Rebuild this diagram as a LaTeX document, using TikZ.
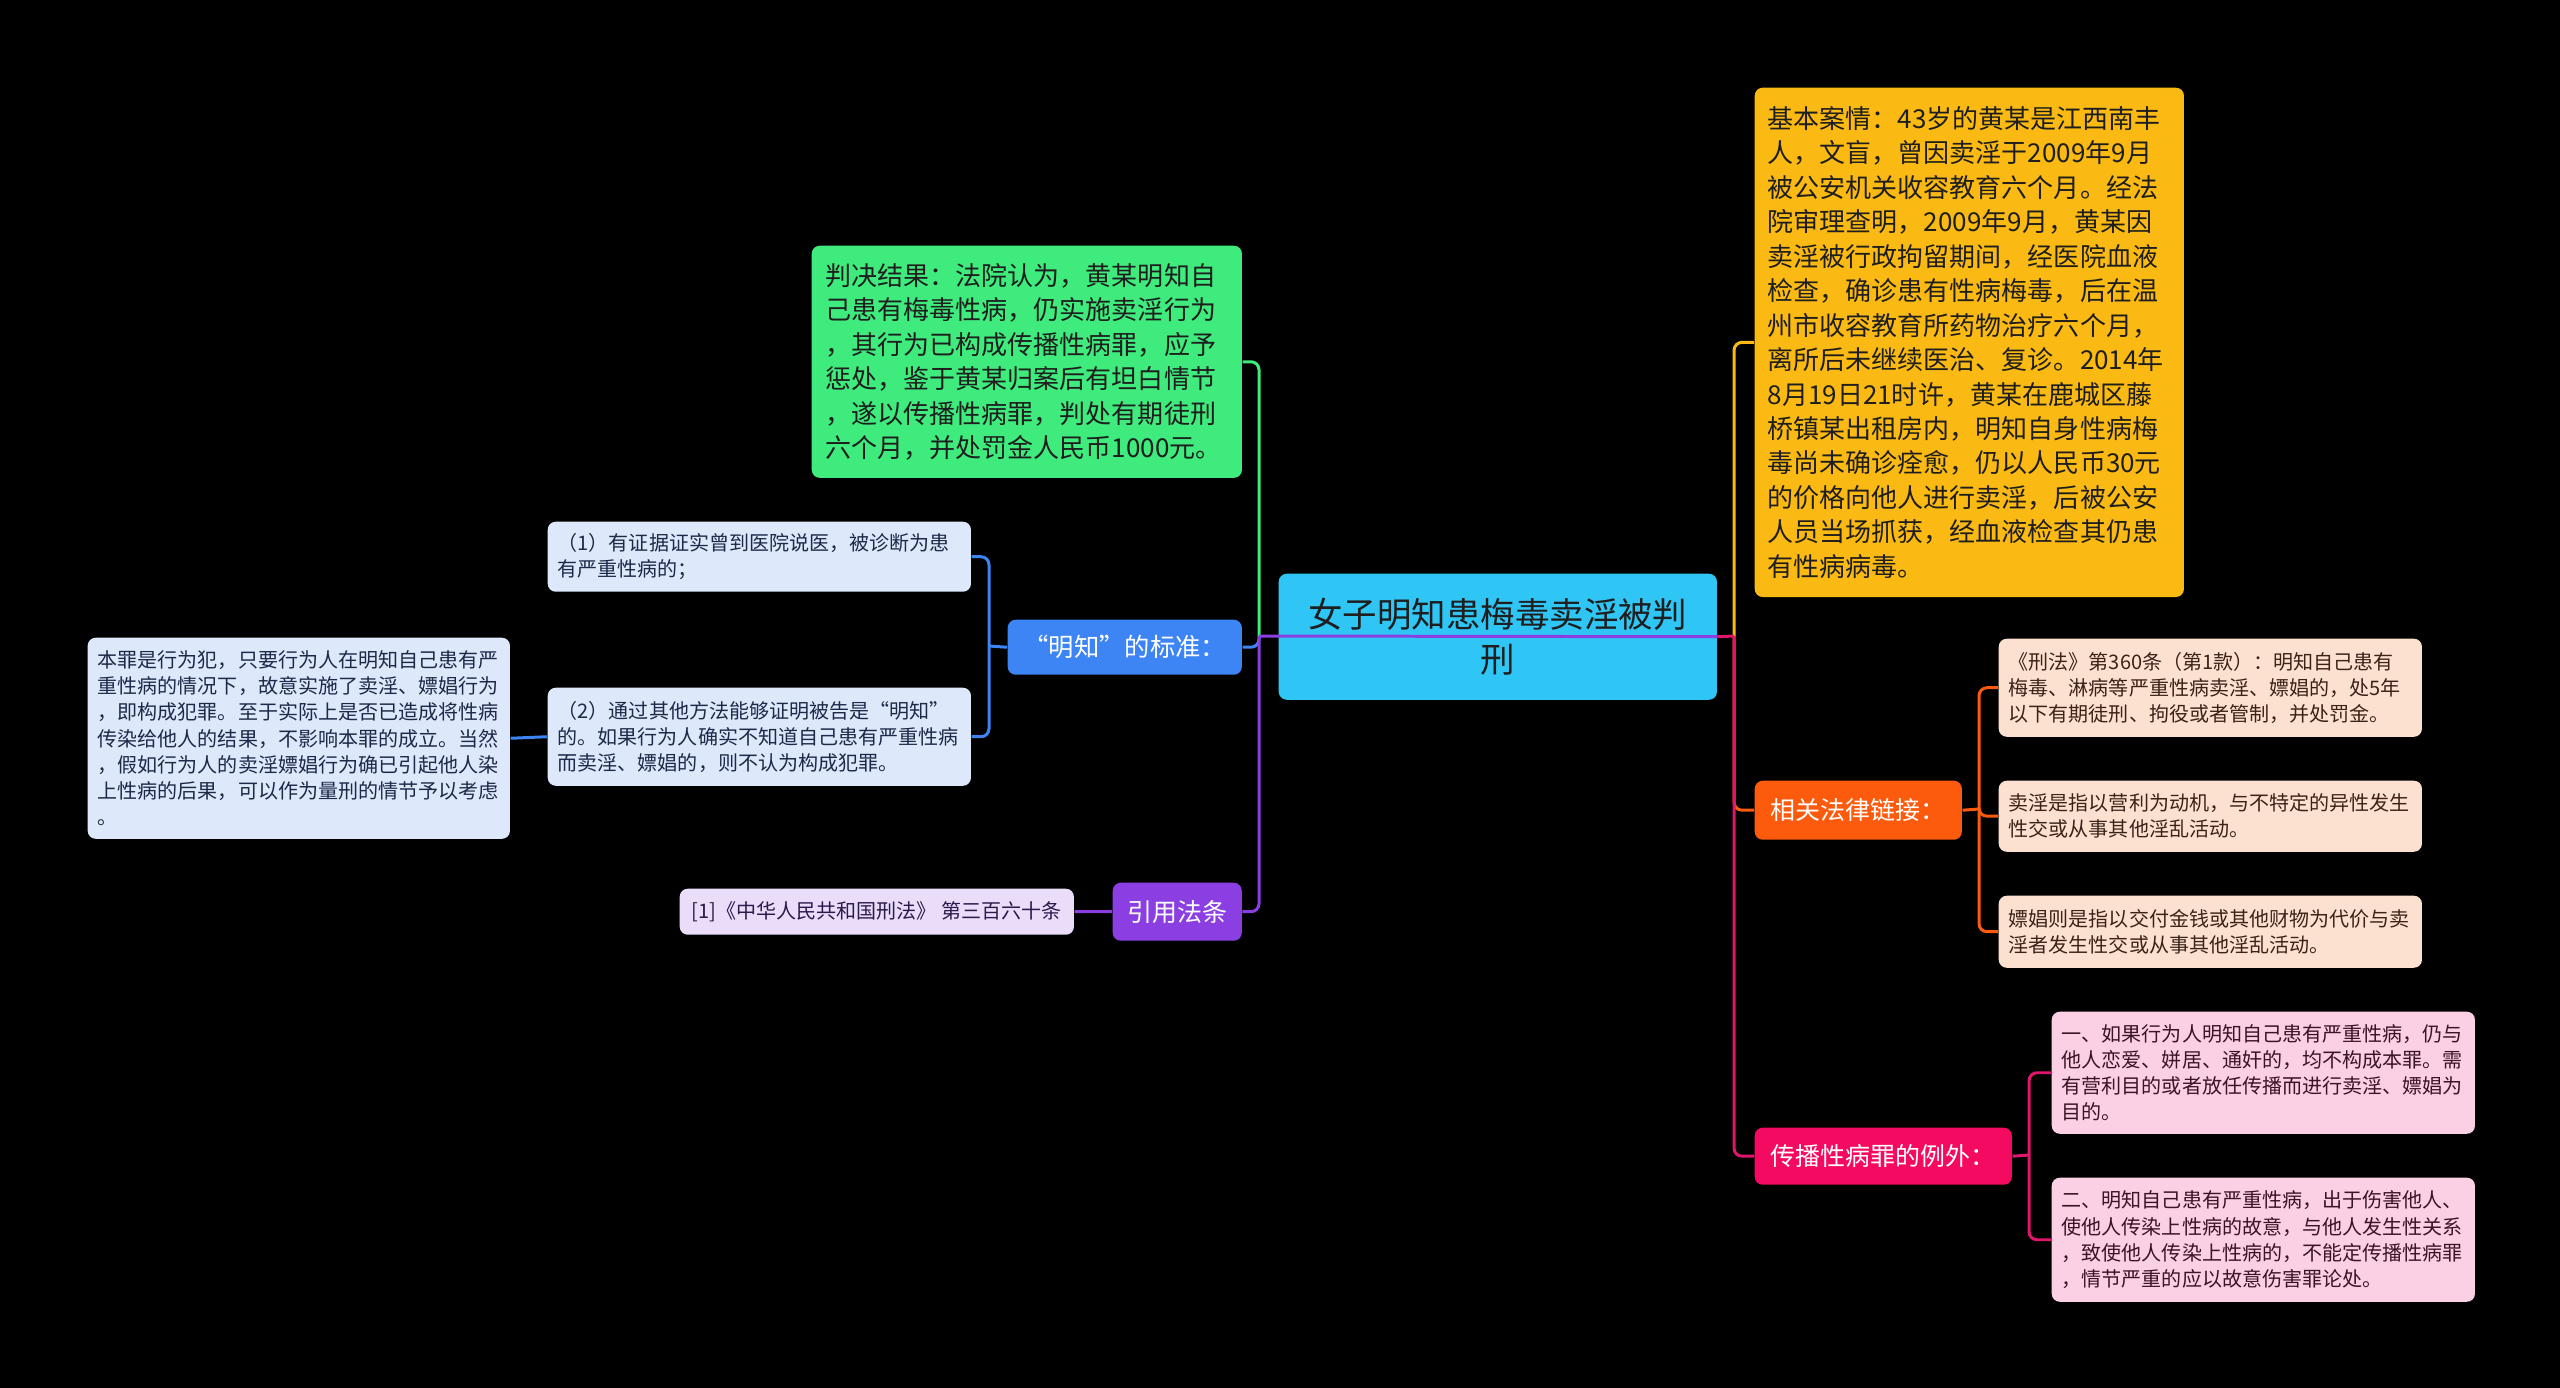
\documentclass[tikz,border=0pt]{standalone}
\usepackage{fontspec}
\setmainfont{Noto Sans CJK SC}

\definecolor{rootfill}{HTML}{2FC5F5}
\definecolor{greenfill}{HTML}{3EEB7C}
\definecolor{yellowfill}{HTML}{FBBA13}
\definecolor{bluefill}{HTML}{3D85F5}
\definecolor{bluepale}{HTML}{DDE8FB}
\definecolor{purplefill}{HTML}{8B3FE3}
\definecolor{purplepale}{HTML}{E9DDFA}
\definecolor{orangefill}{HTML}{FC5A0C}
\definecolor{orangepale}{HTML}{FDE1D0}
\definecolor{pinkfill}{HTML}{F50A62}
\definecolor{pinkpale}{HTML}{FBCFE4}
\definecolor{pinkline}{HTML}{E0156C}
\definecolor{inkdark}{HTML}{1E1E1E}
\definecolor{inkblue}{HTML}{1C2A48}
\definecolor{inkpurple}{HTML}{2B1A4A}
\definecolor{inkbrown}{HTML}{3A2418}
\definecolor{inkplum}{HTML}{3A1428}

\newcommand\fontroot{\fontsize{9.8pt}{13pt}\selectfont}
\newcommand\fontmid{\fontsize{7.4pt}{9.8pt}\selectfont}
\newcommand\fontsmall{\fontsize{5.7pt}{7.45pt}\selectfont}
\newcommand\fonttag{\fontsize{7.1pt}{9pt}\selectfont}

\begin{document}
\begin{tikzpicture}[x=0.01cm, y=-0.01cm,
    card/.style={rounded corners=0.08cm, anchor=north west, inner ysep=0pt, align=left},
    tagcard/.style={card, align=center, text=white, font=\fonttag},
    wire/.style={line width=0.85pt, rounded corners=0.08cm}]
    % background
    \fill[black] (0,0) rectangle (2560,1388);
    \useasboundingbox (0,0) rectangle (2560,1388);

    % root
    \node[card, align=center, fill=rootfill, text=inkdark, font=\fontroot,
          minimum width=4.38cm, minimum height=1.26cm] (root) at (1278,573)
          {女子明知患梅毒卖淫被判\\刑};

    % left side
    \node[card, fill=greenfill, text=inkdark, font=\fontmid, inner xsep=0.14cm,
          text width=4.02cm, minimum height=2.32cm] (verdict) at (811,245)
          {判决结果：法院认为，黄某明知自\\己患有梅毒性病，仍实施卖淫行为\\，其行为已构成传播性病罪，应予\\惩处，鉴于黄某归案后有坦白情节\\，遂以传播性病罪，判处有期徒刑\\六个月，并处罚金人民币1000元。};
    \node[tagcard, fill=bluefill, font=\fontsize{7.2pt}{8pt}\selectfont,
          minimum width=2.34cm, minimum height=0.55cm] (mingzhi) at (1007,619)
          {“明知”的标准：};
    \node[card, fill=bluepale, text=inkblue, font=\fontsmall, inner xsep=0.1cm,
          text width=4.03cm, minimum height=0.70cm] (proofa) at (547,521)
          {（1）有证据证实曾到医院说医，被诊断为患\\有严重性病的；};
    \node[card, fill=bluepale, text=inkblue, font=\fontsmall, inner xsep=0.1cm,
          text width=4.03cm, minimum height=0.98cm] (proofb) at (547,687)
          {（2）通过其他方法能够证明被告是“明知”\\的。如果行为人确实不知道自己患有严重性病\\而卖淫、嫖娼的，则不认为构成犯罪。};
    \node[card, fill=bluepale, text=inkblue, font=\fontsmall, inner xsep=0.1cm,
          text width=4.02cm, minimum height=2.01cm] (crime) at (87,637)
          {本罪是行为犯，只要行为人在明知自己患有严\\重性病的情况下，故意实施了卖淫、嫖娼行为\\，即构成犯罪。至于实际上是否已造成将性病\\传染给他人的结果，不影响本罪的成立。当然\\，假如行为人的卖淫嫖娼行为确已引起他人染\\上性病的后果，可以作为量刑的情节予以考虑\\。};
    \node[tagcard, fill=purplefill, minimum width=1.29cm, minimum height=0.58cm]
          (cite) at (1112,882) {引用法条};
    \node[card, fill=purplepale, text=inkpurple, font=\fontsmall, inner xsep=0.1cm,
          minimum width=3.94cm, minimum height=0.46cm] (article) at (679,888)
          {[1]《中华人民共和国刑法》 第三百六十条};

    % right side
    \node[card, fill=yellowfill, text=inkdark, font=\fontmid, inner xsep=0.13cm,
          text width=4.03cm, minimum height=5.09cm] (facts) at (1754,87)
          {基本案情：43岁的黄某是江西南丰\\人，文盲，曾因卖淫于2009年9月\\被公安机关收容教育六个月。经法\\院审理查明，2009年9月，黄某因\\卖淫被行政拘留期间，经医院血液\\检查，确诊患有性病梅毒，后在温\\州市收容教育所药物治疗六个月，\\离所后未继续医治、复诊。2014年\\8月19日21时许，黄某在鹿城区藤\\桥镇某出租房内，明知自身性病梅\\毒尚未确诊痊愈，仍以人民币30元\\的价格向他人进行卖淫，后被公安\\人员当场抓获，经血液检查其仍患\\有性病病毒。};
    \node[tagcard, fill=orangefill, minimum width=2.07cm, minimum height=0.59cm]
          (laws) at (1754,780) {相关法律链接：};
    \node[card, fill=orangepale, text=inkbrown, font=\fontsmall, inner xsep=0.1cm,
          text width=4.03cm, minimum height=0.98cm] (lawa) at (1998,638)
          {《刑法》第360条（第1款）：明知自己患有\\梅毒、淋病等严重性病卖淫、嫖娼的，处5年\\以下有期徒刑、拘役或者管制，并处罚金。};
    \node[card, fill=orangepale, text=inkbrown, font=\fontsmall, inner xsep=0.1cm,
          text width=4.03cm, minimum height=0.71cm] (lawb) at (1998,780)
          {卖淫是指以营利为动机，与不特定的异性发生\\性交或从事其他淫乱活动。};
    \node[card, fill=orangepale, text=inkbrown, font=\fontsmall, inner xsep=0.1cm,
          text width=4.03cm, minimum height=0.72cm] (lawc) at (1998,895)
          {嫖娼则是指以交付金钱或其他财物为代价与卖\\淫者发生性交或从事其他淫乱活动。};
    \node[tagcard, fill=pinkfill, minimum width=2.57cm, minimum height=0.57cm]
          (except) at (1754,1127) {传播性病罪的例外：};
    \node[card, fill=pinkpale, text=inkplum, font=\fontsmall, inner xsep=0.1cm,
          text width=4.03cm, minimum height=1.22cm] (exca) at (2051,1011)
          {一、如果行为人明知自己患有严重性病，仍与\\他人恋爱、姘居、通奸的，均不构成本罪。需\\有营利目的或者放任传播而进行卖淫、嫖娼为\\目的。};
    \node[card, fill=pinkpale, text=inkplum, font=\fontsmall, inner xsep=0.1cm,
          text width=4.03cm, minimum height=1.24cm] (excb) at (2051,1177)
          {二、明知自己患有严重性病，出于伤害他人、\\使他人传染上性病的故意，与他人发生性关系\\，致使他人传染上性病的，不能定传播性病罪\\，情节严重的应以故意伤害罪论处。};

    % connectors, left
    \coordinate (lbus) at (1259,636);
    \coordinate (bbus) at (989,646);
    \draw[wire, greenfill] (lbus) |- (verdict.east);
    \draw[wire, bluefill] (lbus) |- (mingzhi.east);
    \draw[wire, purplefill] (lbus) |- (cite.east);
    \draw[wire, bluefill] (mingzhi.west) -- (bbus);
    \draw[wire, bluefill] (bbus) |- (proofa.east);
    \draw[wire, bluefill] (bbus) |- (proofb.east);
    \draw[wire, bluefill] (proofb.west) -- (crime.east);
    \draw[wire, purplefill] (cite.west) -- (article.east);

    % connectors, right
    \coordinate (rbus) at (1734,636);
    \coordinate (obus) at (1979,809);
    \coordinate (pbus) at (2029,1155);
    \draw[wire, yellowfill] (rbus) |- (facts.west);
    \draw[wire, orangefill] (rbus) |- (laws.west);
    \draw[wire, pinkline] (rbus) |- (except.west);
    \draw[wire, pinkline] (root.east) -- (rbus);
    \draw[wire, purplefill] (root.east) -- (lbus);
    \draw[wire, orangefill] (laws.east) -- (obus);
    \foreach \n in {lawa,lawb,lawc}
        \draw[wire, orangefill] (obus) |- (\n.west);
    \draw[wire, pinkline] (except.east) -- (pbus);
    \draw[wire, pinkline] (pbus) |- (exca.west);
    \draw[wire, pinkline] (pbus) |- (excb.west);
\end{tikzpicture}
\end{document}
